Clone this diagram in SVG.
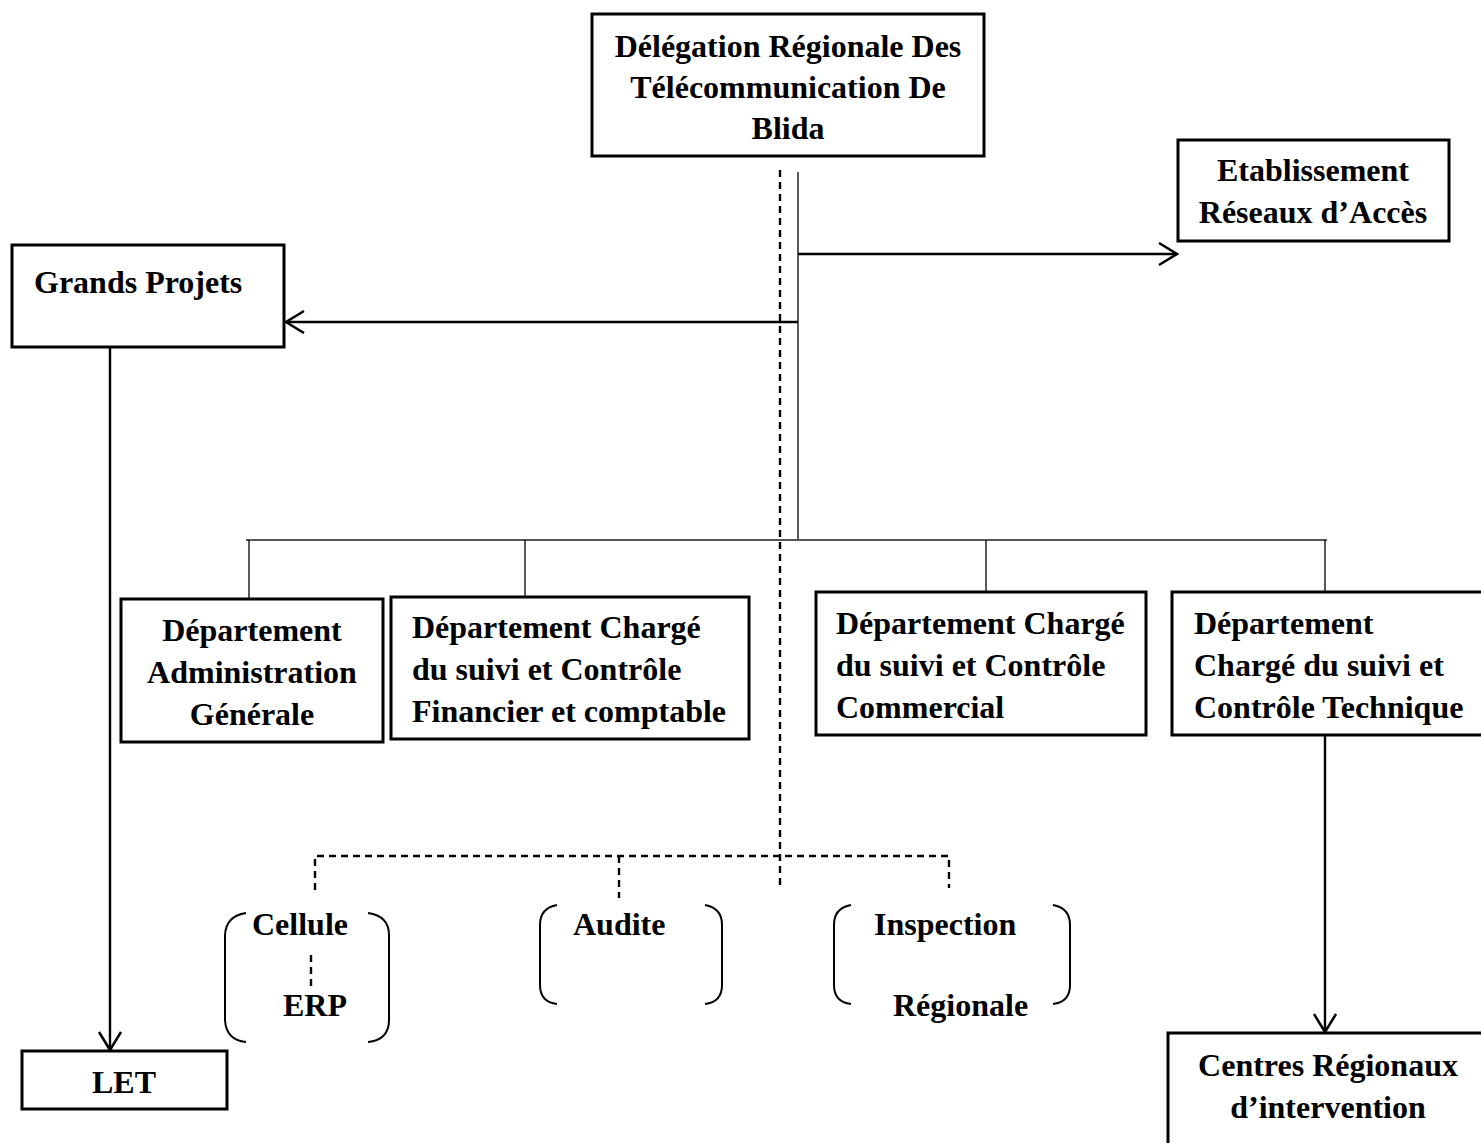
<svg xmlns="http://www.w3.org/2000/svg" width="1481" height="1143" viewBox="0 0 1481 1143">
<defs>
<style>
.box{fill:#fff;stroke:#000;stroke-width:3}
.t{font-family:"Liberation Serif","Times New Roman",serif;font-weight:bold;font-size:32px;fill:#000}
.c{text-anchor:middle}
.arr{fill:none;stroke:#000;stroke-width:2.4}
.thin{fill:none;stroke:#000;stroke-width:1.3}
.dash{fill:none;stroke:#000;stroke-width:2.4;stroke-dasharray:7,5}
.br{fill:none;stroke:#000;stroke-width:2}
</style>
<marker id="ah" markerUnits="userSpaceOnUse" markerWidth="24" markerHeight="26" refX="19" refY="12" orient="auto">
<path d="M1,1 L19,12 L1,23" fill="none" stroke="#000" stroke-width="2.5"/>
</marker>
</defs>
<rect width="1481" height="1143" fill="#fff"/>
<g id="connectors">
<line class="dash" x1="780" y1="170" x2="780" y2="886"/>
<line class="thin" x1="798" y1="172" x2="798" y2="541"/>
<line class="arr" x1="798" y1="254" x2="1177" y2="254" marker-end="url(#ah)"/>
<line class="arr" x1="798" y1="322" x2="286" y2="322" marker-end="url(#ah)"/>
<line x1="246" y1="540" x2="1327" y2="540" stroke="#555" stroke-width="2.2"/>
<line class="thin" x1="249" y1="540" x2="249" y2="599"/>
<line class="thin" x1="525" y1="540" x2="525" y2="597"/>
<line class="thin" x1="986" y1="540" x2="986" y2="592"/>
<line class="thin" x1="1325" y1="540" x2="1325" y2="592"/>
<line class="arr" x1="110" y1="347" x2="110" y2="1050" marker-end="url(#ah)"/>
<line class="arr" x1="1325" y1="736" x2="1325" y2="1032" marker-end="url(#ah)"/>
<path class="dash" d="M315,890 L315,856 L949,856 L949,888"/>
<line class="dash" x1="619" y1="856" x2="619" y2="898"/>
<line class="dash" x1="311" y1="955" x2="311" y2="986"/>
</g>
<g id="n-delegation">
<rect class="box" x="592" y="14" width="392" height="142"/>
<text class="t c" x="788" y="57">Délégation Régionale Des</text>
<text class="t c" x="788" y="98">Télécommunication De</text>
<text class="t c" x="788" y="139">Blida</text>
</g>
<g id="n-etablissement">
<rect class="box" x="1178" y="140" width="271" height="101"/>
<text class="t c" x="1313" y="181">Etablissement</text>
<text class="t c" x="1313" y="223">Réseaux d’Accès</text>
</g>
<g id="n-grands-projets">
<rect class="box" x="12" y="245" width="272" height="102"/>
<text class="t" x="34" y="293">Grands Projets</text>
</g>
<g id="n-let">
<rect class="box" x="22" y="1051" width="205" height="58"/>
<text class="t c" x="124" y="1093">LET</text>
</g>
<g id="n-admin">
<rect class="box" x="121" y="599" width="262" height="143"/>
<text class="t c" x="252" y="641">Département</text>
<text class="t c" x="252" y="683">Administration</text>
<text class="t c" x="252" y="725">Générale</text>
</g>
<g id="n-financier">
<rect class="box" x="391" y="597" width="358" height="142"/>
<text class="t" x="412" y="638">Département Chargé</text>
<text class="t" x="412" y="680">du suivi et Contrôle</text>
<text class="t" x="412" y="722">Financier et comptable</text>
</g>
<g id="n-commercial">
<rect class="box" x="816" y="592" width="330" height="143"/>
<text class="t" x="836" y="634">Département Chargé</text>
<text class="t" x="836" y="676">du suivi et Contrôle</text>
<text class="t" x="836" y="718">Commercial</text>
</g>
<g id="n-technique">
<rect class="box" x="1172" y="592" width="320" height="143"/>
<text class="t" x="1194" y="634">Département</text>
<text class="t" x="1194" y="676">Chargé du suivi et</text>
<text class="t" x="1194" y="718">Contrôle Technique</text>
</g>
<g id="n-centres">
<rect class="box" x="1168" y="1033" width="330" height="130"/>
<text class="t c" x="1328" y="1076">Centres Régionaux</text>
<text class="t c" x="1328" y="1118">d’intervention</text>
</g>
<g id="n-cellule">
<path class="br" d="M246,913 Q226,916 225,935 L225,1020 Q226,1040 246,1042"/>
<path class="br" d="M368,913 Q389,916 389,935 L389,1020 Q389,1040 368,1042"/>
<text class="t" x="252" y="935">Cellule</text>
<text class="t" x="283" y="1016">ERP</text>
</g>
<g id="n-audite">
<path class="br" d="M557,905 Q540,908 540,925 L540,985 Q540,1002 557,1004"/>
<path class="br" d="M705,905 Q722,908 722,925 L722,985 Q722,1002 705,1004"/>
<text class="t" x="573" y="935">Audite</text>
</g>
<g id="n-inspection">
<path class="br" d="M851,905 Q834,908 834,925 L834,985 Q834,1002 851,1004"/>
<path class="br" d="M1053,905 Q1070,908 1070,925 L1070,985 Q1070,1002 1053,1004"/>
<text class="t" x="874" y="935">Inspection</text>
<text class="t" x="893" y="1016">Régionale</text>
</g>
</svg>
